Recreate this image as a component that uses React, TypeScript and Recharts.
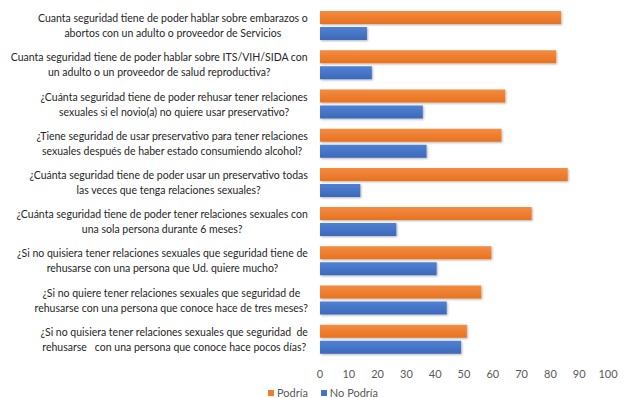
import { BarChart, Bar, XAxis, YAxis, Legend } from 'recharts';

const CATEGORIES = [
  'Cuanta seguridad tiene de poder hablar sobre embarazos o\nabortos con un adulto o proveedor de Servicios',
  'Cuanta seguridad tiene de poder hablar sobre ITS/VIH/SIDA con\nun adulto o un proveedor de salud reproductiva?',
  '¿Cuánta seguridad tiene de poder rehusar tener relaciones\nsexuales si el novio(a) no quiere usar preservativo?',
  '¿Tiene seguridad de usar preservativo para tener relaciones\nsexuales después de haber estado consumiendo alcohol?',
  '¿Cuánta seguridad tiene de poder usar un preservativo todas\nlas veces que tenga relaciones sexuales?',
  '¿Cuánta seguridad tiene de poder tener relaciones sexuales con\nuna sola persona durante 6 meses?',
  '¿Si no quisiera tener relaciones sexuales que seguridad tiene de\nrehusarse con una persona que Ud. quiere mucho?',
  '¿Si no quiere tener relaciones sexuales que seguridad de\nrehusarse con una persona que conoce hace de tres meses?',
  '¿Si no quisiera tener relaciones sexuales que seguridad  de\nrehusarse   con una persona que conoce hace pocos días?',
];
const PODRIA = [83.7, 82.0, 64.3, 63.0, 86.0, 73.5, 59.5, 56.0, 51.0];
const NO_PODRIA = [16.3, 18.0, 35.7, 37.0, 14.0, 26.5, 40.5, 44.0, 49.0];
const X_TICKS = [0, 10, 20, 30, 40, 50, 60, 70, 80, 90, 100];

const rows = CATEGORIES.map((name, i) => ({
  name,
  podria: PODRIA[i],
  noPodria: NO_PODRIA[i],
}));

const FONT = 'Lato, "Liberation Sans", sans-serif';
const LABEL_SIZE = 10.5;
const ORANGE = '#ED7D31';
const BLUE = '#4472C4';

let ctx: CanvasRenderingContext2D | null = null;
function textWidth(s: string) {
  if (!ctx) ctx = document.createElement('canvas').getContext('2d');
  if (!ctx) return s.length * 5;
  ctx.font = `${LABEL_SIZE}px Lato`;
  return ctx.measureText(s).width;
}

function CategoryTick(props: any) {
  const { x, y, payload } = props;
  const lines: string[] = String(payload.value).split('\n');
  const w = Math.max(...lines.map(textWidth));
  // right edge of the longest line sits ~12px left of the plot
  const cx = x - 4 - w / 2;
  return (
    <text
      x={cx}
      y={y}
      textAnchor="middle"
      fill="#262626"
      fontSize={LABEL_SIZE}
      fontFamily={FONT}
      style={{ whiteSpace: 'pre' }}
    >
      {lines.map((l, i) => (
        <tspan key={i} x={cx} y={y + (i - (lines.length - 1) / 2) * 15} dominantBaseline="central">
          {l}
        </tspan>
      ))}
    </text>
  );
}

const LEGEND_ITEMS = [
  { label: 'Podría', color: ORANGE },
  { label: 'No Podría', color: BLUE },
];

function LegendBox() {
  return (
    <div
      style={{
        display: 'flex',
        justifyContent: 'center',
        gap: 13,
        paddingTop: 11,
        paddingLeft: 38,
        lineHeight: '14px',
        height: 11,
        fontSize: 11,
        fontFamily: FONT,
        color: '#595959',
      }}
    >
      {LEGEND_ITEMS.map((it) => (
        <span key={it.label} style={{ display: 'flex', alignItems: 'center', gap: 3 }}>
          <span style={{ width: 6, height: 6, background: it.color, display: 'inline-block' }} />
          {it.label}
        </span>
      ))}
    </div>
  );
}

export default function App() {
  return (
    <div style={{ position: 'absolute', left: 0, top: 0, background: '#fff' }}>
      <BarChart
        width={625}
        height={398}
        data={rows}
        layout="vertical"
        margin={{ top: 6, right: 17, bottom: 0, left: 0 }}
        barSize={13}
        barGap={3}
      >
        <defs>
          <linearGradient id="gOrange" x1="0" y1="0" x2="0" y2="1">
            <stop offset="0%" stopColor="#F38C42" />
            <stop offset="100%" stopColor="#E8721F" />
          </linearGradient>
          <linearGradient id="gBlue" x1="0" y1="0" x2="0" y2="1">
            <stop offset="0%" stopColor="#5082D3" />
            <stop offset="100%" stopColor="#3D68BA" />
          </linearGradient>
          <filter id="shadow" x="-5%" y="-30%" width="110%" height="170%">
            <feDropShadow dx="1" dy="1" stdDeviation="0.8" floodColor="#000" floodOpacity="0.3" />
          </filter>
        </defs>
        <XAxis
          type="number"
          domain={[0, 100]}
          ticks={X_TICKS}
          axisLine={false}
          tickLine={false}
          height={17}
          tick={{ fontSize: 11, fill: '#595959', fontFamily: FONT, dy: 3 }}
        />
        <YAxis
          type="category"
          dataKey="name"
          width={320}
          axisLine={false}
          tickLine={false}
          interval={0}
          tick={<CategoryTick />}
        />
        <Legend verticalAlign="bottom" height={22} content={() => <LegendBox />} />
        <Bar
          dataKey="podria"
          name="Podría"
          fill="url(#gOrange)"
          filter="url(#shadow)"
          isAnimationActive={false}
        />
        <Bar
          dataKey="noPodria"
          name="No Podría"
          fill="url(#gBlue)"
          filter="url(#shadow)"
          isAnimationActive={false}
        />
      </BarChart>
    </div>
  );
}
